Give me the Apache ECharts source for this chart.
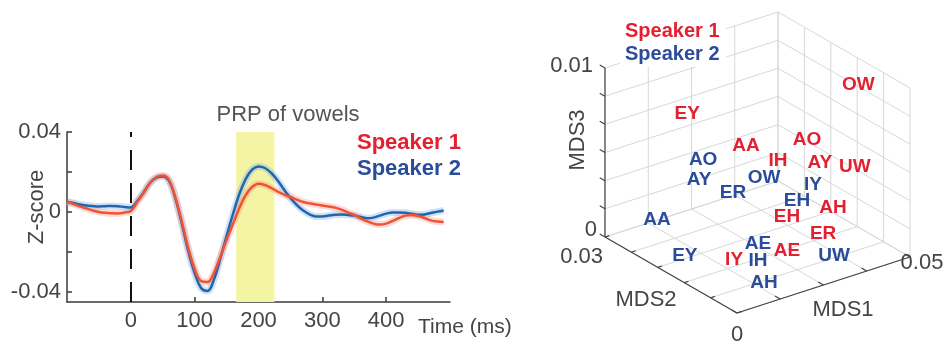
<!DOCTYPE html>
<html>
<head>
<meta charset="utf-8">
<script src="https://cdn.jsdelivr.net/npm/echarts@6/dist/echarts.min.js"></script>
<style>
  html, body { margin: 0; padding: 0; background: #ffffff; }
  #chart { width: 947px; height: 345px; }
</style>
</head>
<body>
<div id="chart"></div>
<script>
// ---- Evoked response (left panel) ----
const timeMs = [-100, -90, -80, -70, -60, -50, -40, -30, -20, -10,
  0, 10, 20, 30, 40, 50, 60, 70, 80, 90,
  100, 110, 120, 130, 140, 150, 160, 170, 180, 190,
  200, 210, 220, 230, 240, 250, 260, 270, 280, 290,
  300, 310, 320, 330, 340, 350, 360, 370, 380, 390,
  400, 410, 420, 430, 440, 450, 460, 470, 480, 490];

const speaker1Z = [0.0051, 0.0040, 0.0028, 0.0018, 0.0008, 0.0000, -0.0004, -0.0006, -0.0007, -0.0003,
  0.0005, 0.0050, 0.0095, 0.0145, 0.0175, 0.0182, 0.0160, 0.0070, -0.0050, -0.0180,
  -0.0285, -0.0345, -0.0350, -0.0305, -0.0225, -0.0140, -0.0060, 0.0020, 0.0085, 0.0125,
  0.0141, 0.0135, 0.0120, 0.0102, 0.0087, 0.0075, 0.0062, 0.0050, 0.0043, 0.0037,
  0.0033, 0.0028, 0.0022, 0.0012, -0.0002, -0.0015, -0.0032, -0.0047, -0.0058, -0.0063,
  -0.0058, -0.0045, -0.0030, -0.0018, -0.0015, -0.0020, -0.0030, -0.0042, -0.0048, -0.0050];

const speaker2Z = [0.0051, 0.0045, 0.0038, 0.0033, 0.0030, 0.0028, 0.0029, 0.0030, 0.0029, 0.0025,
  0.0022, 0.0055, 0.0098, 0.0145, 0.0172, 0.0178, 0.0155, 0.0065, -0.0060, -0.0195,
  -0.0305, -0.0380, -0.0395, -0.0340, -0.0235, -0.0120, -0.0010, 0.0090, 0.0165, 0.0212,
  0.0228, 0.0220, 0.0195, 0.0158, 0.0112, 0.0070, 0.0035, 0.0008, -0.0012, -0.0022,
  -0.0022, -0.0018, -0.0014, -0.0013, -0.0015, -0.0018, -0.0025, -0.0031, -0.0028, -0.0018,
  -0.0008, -0.0003, -0.0003, -0.0004, -0.0009, -0.0014, -0.0012, -0.0005, 0.0002, 0.0008];

const prpWindowMs = [165, 225];
const timeTickLabels = [0, 100, 200, 300, 400];
const zTicks = [-0.04, -0.02, 0, 0.02, 0.04];
const zTickLabels = [-0.04, 0, 0.04];

// ---- MDS embedding of vowels (right panel) ----
const vowelsS1 = ['OW', 'EY', 'AA', 'AO', 'IH', 'AY', 'UW', 'AH', 'EH', 'ER', 'AE', 'IY'];
const mds1S1 = [0.0465, 0.0085, 0.0217, 0.0355, 0.0271, 0.0354, 0.0417, 0.0354, 0.0259, 0.0306, 0.0221, 0.0106];
const mds2S1 = [0.0090, 0.0180, 0.0150, 0.0120, 0.0120, 0.0090, 0.0060, 0.0060, 0.0090, 0.0045, 0.0060, 0.0090];
const mds3S1 = [0.0091, 0.0085, 0.0062, 0.0061, 0.0054, 0.0052, 0.0050, 0.0030, 0.0026, 0.0020, 0.0013, 0.0011];

const vowelsS2 = ['AO', 'AY', 'OW', 'ER', 'IY', 'EH', 'AA', 'EY', 'AE', 'IH', 'AH', 'UW'];
const mds1S2 = [0.0131, 0.0119, 0.0231, 0.0179, 0.0334, 0.0288, 0.0074, 0.0040, 0.0175, 0.0137, 0.0116, 0.0300];
const mds2S2 = [0.0180, 0.0180, 0.0120, 0.0150, 0.0090, 0.0090, 0.0240, 0.0150, 0.0090, 0.0060, 0.0030, 0.0015];
const mds3S2 = [0.0055, 0.0044, 0.0047, 0.0037, 0.0040, 0.0034, 0.0014, 0.0009, 0.0016, 0.0013, 0.0006, 0.0012];

const mds1Ticks = [0, 0.0125, 0.025, 0.0375, 0.05];
const mds2Ticks = [0, 0.006, 0.012, 0.018, 0.024, 0.03];
const mds3Ticks = [0, 0.00167, 0.00333, 0.005, 0.00667, 0.00833, 0.01];

// Oblique view of the MDS box: screen offset (px, y up) of each full axis span
const MDS_MAX = [0.05, 0.03, 0.01];
const AXIS_DIR = [[173, 56], [-132, 76], [0, 169]];
function project(m1, m2, m3) {
  const f = [m1 / MDS_MAX[0], m2 / MDS_MAX[1], m3 / MDS_MAX[2]];
  let h = 0, v = 0;
  for (let i = 0; i < 3; i++) { h += f[i] * AXIS_DIR[i][0]; v += f[i] * AXIS_DIR[i][1]; }
  return [h, v];
}
function seg(a, b) { const p = project(...a), q = project(...b); return [p[0], p[1], q[0], q[1]]; }

// Back walls and floor grid
const gridSegs = [];
const [X1, X2, X3] = MDS_MAX;
mds1Ticks.forEach(t => {
  gridSegs.push(seg([t, 0, 0], [t, X2, 0]));        // floor
  gridSegs.push(seg([t, X2, 0], [t, X2, X3]));      // back-left wall
});
mds2Ticks.forEach(t => {
  gridSegs.push(seg([0, t, 0], [X1, t, 0]));        // floor
  gridSegs.push(seg([X1, t, 0], [X1, t, X3]));      // back-right wall
});
mds3Ticks.forEach(t => {
  gridSegs.push(seg([0, X2, t], [X1, X2, t]));      // back-left wall
  gridSegs.push(seg([X1, X2, t], [X1, 0, t]));      // back-right wall
});

// Axis lines and ticks
const axisSegs = [
  seg([0, 0, 0], [X1, 0, 0]),
  seg([0, 0, 0], [0, X2, 0]),
  seg([0, X2, 0], [0, X2, X3])
];
mds1Ticks.forEach(t => axisSegs.push(seg([t, 0, 0], [t, X2 * 0.04, 0])));
mds2Ticks.forEach(t => axisSegs.push(seg([0, t, 0], [X1 * 0.025, t, 0])));
mds3Ticks.forEach(t => axisSegs.push(seg([0, X2, t], [0, X2 * 1.04, t])));

const pointsS1 = vowelsS1.map((n, i) => ({ name: n, value: project(mds1S1[i], mds2S1[i], mds3S1[i]) }));
const pointsS2 = vowelsS2.map((n, i) => ({ name: n, value: project(mds1S2[i], mds2S2[i], mds3S2[i]) }));

const FONT = 'Liberation Sans, Arial, Helvetica, sans-serif';
const RED = '#e3202f';
const BLUE = '#2b4c9b';
const AXIS_TEXT = '#444444';

function segRenderer(color, width) {
  return function (params, api) {
    const a = api.coord([api.value(0), api.value(1)]);
    const b = api.coord([api.value(2), api.value(3)]);
    return { type: 'line', shape: { x1: a[0], y1: a[1], x2: b[0], y2: b[1] },
             style: { stroke: color, lineWidth: width } };
  };
}

const chart = echarts.init(document.getElementById('chart'), null, { renderer: 'canvas' });

const s1Data = timeMs.map((t, i) => [t, speaker1Z[i]]);
const s2Data = timeMs.map((t, i) => [t, speaker2Z[i]]);

function textEl(x, y, text, font, fill, align, rotation) {
  return { type: 'text', x: x, y: y, rotation: rotation || 0, z: 100,
           style: { text: text, font: font, fill: fill, align: align, verticalAlign: 'middle' } };
}

function vowelLabels(name, points, color) {
  return {
    name: name, type: 'scatter', xAxisIndex: 1, yAxisIndex: 1, data: points,
    symbolSize: 0, itemStyle: { color: color, opacity: 1 }, z: 5,
    label: {
      show: true, position: 'inside', formatter: '{b}', color: color,
      fontSize: 19, fontWeight: 'bold', fontFamily: FONT, textBorderWidth: 0, opacity: 1
    }
  };
}

chart.setOption({
  animation: false,
  backgroundColor: '#ffffff',
  textStyle: { fontFamily: FONT },
  grid: [
    { left: 67, top: 132, width: 383, height: 170 },
    { left: 605, top: 12, width: 305, height: 301 }
  ],
  xAxis: [
    {
      gridIndex: 0, type: 'value', min: -100, max: 500,
      axisLine: { onZero: false, lineStyle: { color: '#3a3a3a', width: 1.5 } },
      axisTick: { inside: true, length: 5, customValues: timeTickLabels, lineStyle: { color: '#3a3a3a', width: 1.5 } },
      axisLabel: { customValues: timeTickLabels, color: AXIS_TEXT, fontSize: 22, fontFamily: FONT, margin: 8 },
      splitLine: { show: false }
    },
    { gridIndex: 1, type: 'value', min: -132, max: 173, show: false }
  ],
  yAxis: [
    {
      gridIndex: 0, type: 'value', min: -0.045, max: 0.04,
      axisLine: { show: true, onZero: false, lineStyle: { color: '#3a3a3a', width: 1.5 } },
      axisTick: { show: true, inside: true, length: 5, customValues: zTicks, lineStyle: { color: '#3a3a3a', width: 1.5 } },
      axisLabel: {
        customValues: zTickLabels, color: AXIS_TEXT, fontSize: 22, fontFamily: FONT, margin: 6,
        formatter: v => (Math.abs(v) < 1e-9 ? '0' : v.toFixed(2))
      },
      splitLine: { show: false }
    },
    { gridIndex: 1, type: 'value', min: 0, max: 301, show: false }
  ],
  series: [
    // SEM-like halos
    { type: 'line', xAxisIndex: 0, yAxisIndex: 0, data: s2Data, smooth: 0.4, symbol: 'none', silent: true,
      lineStyle: { color: 'rgba(120,170,235,0.35)', width: 7 }, z: 2 },
    { type: 'line', xAxisIndex: 0, yAxisIndex: 0, data: s1Data, smooth: 0.4, symbol: 'none', silent: true,
      lineStyle: { color: 'rgba(250,150,140,0.35)', width: 7 }, z: 2 },
    {
      name: 'Speaker 2', type: 'line', xAxisIndex: 0, yAxisIndex: 0, data: s2Data, smooth: 0.4,
      symbol: 'none', lineStyle: { color: '#1f66ad', width: 2.5 }, z: 3,
      markArea: {
        silent: true, itemStyle: { color: '#f4f5a4' }, z: 1,
        data: [[{ xAxis: prpWindowMs[0] }, { xAxis: prpWindowMs[1] }]]
      },
      markLine: {
        silent: true, symbol: 'none', label: { show: false },
        lineStyle: { color: '#111111', type: [20, 13], width: 2 },
        data: [{ xAxis: 0 }]
      }
    },
    {
      name: 'Speaker 1', type: 'line', xAxisIndex: 0, yAxisIndex: 0, data: s1Data, smooth: 0.4,
      symbol: 'none', lineStyle: { color: '#ef5430', width: 2.5 }, z: 4
    },
    // MDS box
    { type: 'custom', xAxisIndex: 1, yAxisIndex: 1, data: gridSegs, silent: true, z: 1,
      renderItem: segRenderer('#d8d8d8', 1) },
    { type: 'custom', xAxisIndex: 1, yAxisIndex: 1, data: axisSegs, silent: true, z: 2,
      renderItem: segRenderer('#444444', 1.2) },
    vowelLabels('Speaker 1 vowels', pointsS1, RED),
    vowelLabels('Speaker 2 vowels', pointsS2, BLUE)
  ],
  graphic: [
    textEl(37, 207, 'Z-score', '22px ' + FONT, AXIS_TEXT, 'center', Math.PI / 2),
    textEl(418, 327, 'Time (ms)', '21px ' + FONT, AXIS_TEXT, 'left'),
    textEl(288, 115, 'PRP of vowels', '22px ' + FONT, '#555555', 'center'),
    textEl(357, 143, 'Speaker 1', 'bold 22px ' + FONT, RED, 'left'),
    textEl(357, 169, 'Speaker 2', 'bold 22px ' + FONT, BLUE, 'left'),

    // legend box of the MDS panel sits above the wall grid
    { type: 'rect', z: 99, shape: { x: 620, y: 17, width: 106, height: 50 }, style: { fill: '#ffffff' } },
    textEl(625, 31, 'Speaker 1', 'bold 20px ' + FONT, RED, 'left'),
    textEl(625, 54, 'Speaker 2', 'bold 20px ' + FONT, BLUE, 'left'),
    textEl(593, 66, '0.01', '22px ' + FONT, AXIS_TEXT, 'right'),
    textEl(597, 230, '0', '22px ' + FONT, AXIS_TEXT, 'right'),
    textEl(603, 257, '0.03', '22px ' + FONT, AXIS_TEXT, 'right'),
    textEl(737, 335, '0', '22px ' + FONT, AXIS_TEXT, 'center'),
    textEl(922, 263, '0.05', '22px ' + FONT, AXIS_TEXT, 'center'),
    textEl(578, 140, 'MDS3', '22px ' + FONT, AXIS_TEXT, 'center', Math.PI / 2),
    textEl(646, 300, 'MDS2', '22px ' + FONT, AXIS_TEXT, 'center'),
    textEl(843, 310, 'MDS1', '22px ' + FONT, AXIS_TEXT, 'center')
  ]
});
</script>
</body>
</html>
